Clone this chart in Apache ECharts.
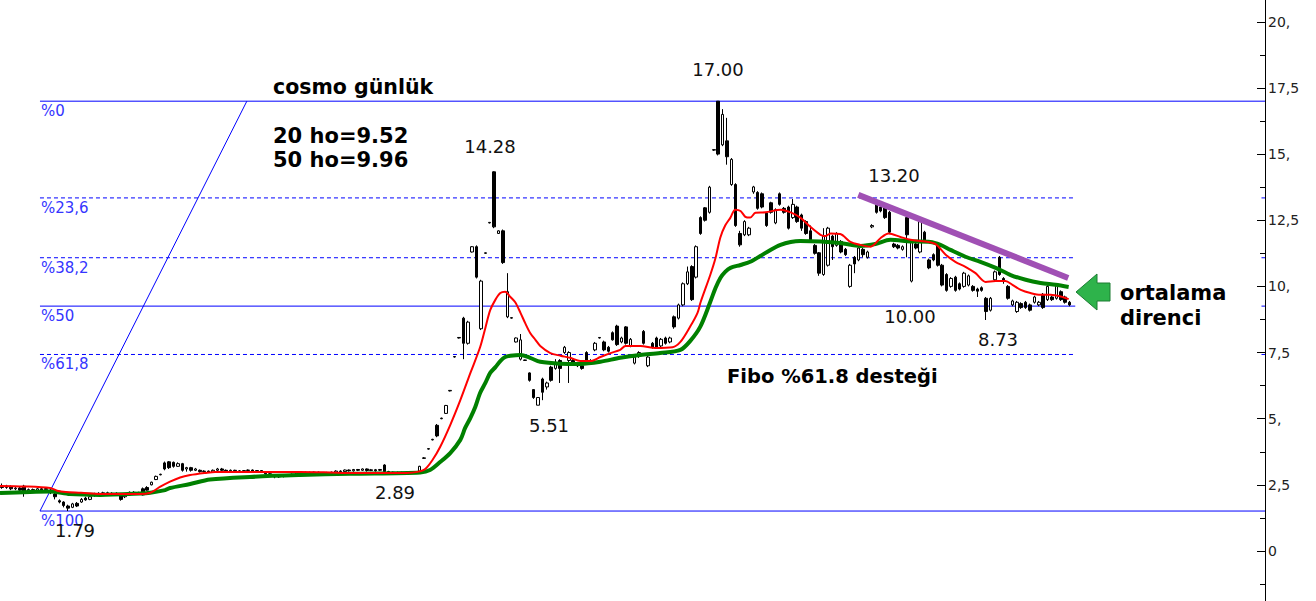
<!DOCTYPE html>
<html><head><meta charset="utf-8">
<script src="https://cdn.jsdelivr.net/npm/echarts@6/dist/echarts.min.js"></script>
<style>html,body{margin:0;padding:0;background:#fff}#c{width:1316px;height:601px}</style>
</head><body><div id="c"></div>
<script>
// [open, close, low, high] per trading day
const ohlc = [
[2.45,2.40,2.35,2.55],[2.40,2.45,2.35,2.50],[2.42,2.35,2.30,2.48],[2.35,2.38,2.30,2.42],[2.38,2.30,2.25,2.42],[2.45,2.20,2.05,2.50],[2.25,2.32,2.20,2.36],[2.32,2.28,2.24,2.36],[2.28,2.35,2.25,2.38],[2.35,2.30,2.26,2.40],
[2.32,2.36,2.28,2.40],[2.30,2.20,2.15,2.34],[2.15,2.05,1.95,2.20],[1.90,1.85,1.80,1.95],[1.85,1.72,1.65,1.88],[1.70,1.62,1.51,1.75],[1.65,1.78,1.62,1.82],[1.80,1.70,1.66,1.85],[1.85,1.95,1.82,2.00],[2.00,1.93,1.90,2.05],
[1.95,2.05,1.92,2.10],[2.10,2.15,2.05,2.20],[2.15,2.18,2.10,2.22],[2.15,2.20,2.12,2.24],[2.20,2.14,2.10,2.24],[2.15,2.18,2.12,2.22],[2.18,2.15,2.12,2.22],[2.10,1.95,1.90,2.12],[2.05,2.12,2.00,2.15],[2.12,2.22,2.10,2.25],
[2.22,2.18,2.14,2.26],[2.18,2.20,2.16,2.24],[2.35,2.12,2.10,2.40],[2.40,2.30,2.28,2.45],[2.50,2.60,2.48,2.62],[2.70,2.82,2.68,2.85],[2.88,2.90,2.86,2.92],[3.33,3.10,3.05,3.38],[3.37,3.15,3.10,3.40],[3.35,3.20,3.15,3.38],
[3.20,3.30,3.18,3.35],[3.30,3.05,3.00,3.33],[3.10,3.15,3.00,3.18],[3.15,3.05,3.00,3.18],[3.05,3.10,3.02,3.14],[3.05,3.00,2.96,3.08],[3.00,3.02,2.96,3.05],[3.02,2.98,2.95,3.04],[2.98,3.05,2.96,3.08],[3.05,3.10,3.02,3.14],
[3.10,3.05,3.02,3.14],[3.05,3.02,2.98,3.08],[3.02,3.05,3.00,3.08],[3.05,3.03,3.00,3.07],[3.03,3.00,2.97,3.06],[3.00,3.04,2.98,3.06],[3.04,3.06,3.00,3.08],[3.06,3.02,3.00,3.08],[3.02,3.04,3.00,3.06],[3.04,2.98,2.95,3.06],
[2.98,2.92,2.88,3.00],[2.92,2.85,2.80,2.95],[2.85,2.80,2.75,2.88],[2.80,2.85,2.76,2.88],[2.85,2.82,2.78,2.88],[2.82,2.88,2.80,2.90],[2.88,2.90,2.85,2.93],[2.90,2.95,2.88,2.98],[2.95,2.93,2.90,2.98],[2.93,2.97,2.90,3.00],
[2.97,2.95,2.92,3.00],[2.95,2.98,2.92,3.00],[2.98,2.96,2.93,3.00],[2.96,2.93,2.90,2.98],[2.93,2.96,2.90,2.99],[2.96,2.98,2.93,3.00],[2.98,3.02,2.95,3.05],[3.02,3.00,2.97,3.05],[3.00,3.06,2.98,3.08],[3.06,3.03,3.00,3.08],
[3.03,3.08,3.00,3.10],[3.08,3.05,3.02,3.10],[3.05,3.10,3.03,3.12],[3.10,3.04,3.00,3.12],[3.04,3.07,3.02,3.10],[3.07,3.03,3.00,3.10],[3.05,3.08,3.02,3.10],[3.25,3.00,2.98,3.28],[3.00,2.98,2.95,3.03],[2.98,2.95,2.90,3.00],
[2.95,2.97,2.89,3.00],[2.97,2.96,2.93,3.00],[2.96,2.98,2.94,3.00],[2.98,2.97,2.94,3.00],[2.97,3.00,2.94,3.02],[3.00,3.20,2.98,3.22],[3.50,3.52,3.48,3.55],[3.85,3.87,3.83,3.88],[4.20,4.22,4.18,4.24],[4.75,4.35,4.30,4.80],
[5.00,5.02,4.98,5.04],[5.20,5.50,5.18,5.52],[6.05,6.07,6.03,6.08],[7.33,7.35,7.31,7.36],[8.05,8.07,8.03,8.08],[8.80,7.85,7.25,8.85],[7.85,8.65,7.80,8.70],[11.30,11.50,11.28,11.52],[11.50,10.35,10.30,11.55],[8.40,10.20,8.35,10.25],
[11.25,11.27,11.23,11.28],[12.40,12.42,12.38,12.43],[14.33,12.25,12.20,14.35],[12.00,12.10,11.98,12.12],[12.10,10.90,10.85,12.15],[8.85,9.80,8.80,10.50],[8.80,8.82,8.78,8.83],[7.90,8.05,7.88,8.07],[7.25,7.98,7.20,8.20],[7.20,7.22,7.18,7.23],
[6.73,6.45,6.40,6.75],[6.10,5.80,5.75,6.12],[5.51,5.80,5.51,5.82],[6.50,6.00,5.70,6.55],[6.20,6.35,6.10,6.40],[6.95,6.45,6.40,7.00],[6.90,7.05,6.85,7.25],[7.20,6.90,6.35,7.25],[7.50,7.70,7.45,7.75],[7.20,7.50,6.35,7.55],
[7.20,7.08,7.00,7.25],[7.00,7.05,6.95,7.10],[7.00,6.90,6.85,7.05],[7.50,7.10,7.05,7.55],[7.10,7.20,7.05,7.25],[7.60,7.85,7.55,7.90],[8.05,8.07,8.03,8.08],[7.90,7.60,7.55,7.95],[7.70,7.55,7.50,7.75],[8.25,7.98,7.95,8.30],
[8.50,7.80,7.75,8.55],[7.90,8.05,7.85,8.10],[8.47,7.85,7.80,8.50],[7.75,8.00,7.70,8.05],[7.10,7.33,7.05,7.38],[7.35,7.50,7.30,7.55],[8.30,7.85,7.80,8.35],[7.00,7.33,6.95,7.38],[7.85,7.70,7.65,7.90],[8.05,7.70,7.65,8.10],
[7.75,8.00,7.70,8.05],[8.05,7.85,7.80,8.10],[7.90,8.05,7.85,8.10],[8.85,8.47,8.40,8.90],[8.80,9.30,8.75,9.35],[9.30,10.10,9.25,10.15],[10.10,10.55,10.05,10.75],[10.75,9.50,9.45,10.80],[10.35,11.50,10.30,11.55],[12.60,12.00,11.95,12.65],
[12.97,12.50,12.45,13.00],[12.80,13.75,12.75,13.80],[15.15,15.17,15.12,15.18],[17.00,15.00,14.95,17.00],[15.35,16.50,15.30,16.70],[15.50,14.90,14.60,16.37],[13.85,14.80,13.80,14.85],[13.85,12.30,12.25,13.90],[12.00,11.57,11.50,12.10],[11.95,12.45,11.90,12.50],
[11.95,12.20,11.90,12.25],[13.57,13.76,13.50,13.80],[13.55,12.95,12.90,13.60],[13.50,13.00,12.95,13.55],[12.77,12.30,12.25,12.80],[13.16,12.80,12.75,13.20],[12.40,12.90,12.35,12.95],[13.50,13.10,13.05,13.55],[12.95,12.80,12.75,13.00],[13.00,12.20,12.15,13.05],
[12.60,13.10,12.55,13.30],[13.00,12.45,12.40,13.05],[12.70,12.20,12.10,12.75],[12.45,12.00,11.95,12.50],[12.10,11.70,11.65,12.30],[11.55,11.25,11.20,11.60],[11.27,10.50,10.40,11.30],[10.45,11.90,10.40,12.20],[10.80,12.20,10.75,12.25],[11.90,11.50,11.00,11.95],
[11.55,12.00,11.50,12.05],[11.70,11.30,11.25,11.75],[11.40,11.20,11.15,11.45],[10.00,10.80,9.95,10.85],[11.10,10.85,10.50,11.15],[11.00,11.45,10.95,11.50],[11.40,11.20,11.10,11.45],[11.10,11.30,11.05,11.35],[12.25,12.30,12.20,12.35],[13.10,12.80,12.75,13.20],
[13.00,12.85,12.80,13.05],[13.00,12.60,12.55,13.05],[12.80,12.05,12.00,12.85],[11.60,11.50,11.45,11.65],[11.55,11.45,11.40,11.60],[11.40,11.50,11.35,11.55],[12.60,11.95,11.10,12.65],[10.20,11.70,10.15,11.75],[11.60,11.45,11.40,11.65],[11.30,12.45,11.25,12.50],
[12.05,11.70,11.65,12.10],[11.00,10.70,10.65,11.05],[11.20,11.00,10.95,11.25],[11.55,10.80,10.75,11.60],[10.80,10.05,10.00,10.85],[10.45,9.85,9.80,10.50],[10.00,10.30,9.95,10.35],[10.35,9.85,9.80,10.40],[10.10,9.90,9.85,10.15],[10.00,10.50,9.95,10.55],
[10.05,10.40,10.00,10.45],[10.00,9.85,9.80,10.05],[9.90,9.82,9.60,9.95],[9.95,9.85,9.80,10.00],[9.55,9.05,8.73,9.60],[9.10,9.55,9.05,9.60],[10.25,10.55,10.20,10.60],[11.10,10.45,10.40,11.15],[10.30,10.20,10.10,10.35],[10.00,9.55,9.50,10.05],
[9.30,9.45,9.25,9.50],[9.05,9.40,9.00,9.45],[9.35,9.20,9.15,9.40],[9.40,9.20,9.15,9.45],[9.30,9.10,9.05,9.35],[9.40,9.60,9.35,9.65],[9.30,9.40,9.25,9.45],[9.70,9.20,9.15,9.75],[9.50,10.00,9.45,10.05],[9.60,9.50,9.45,9.65],
[9.55,10.05,9.50,10.10],[9.80,9.50,9.45,9.85],[9.60,9.40,9.35,9.65],[9.40,9.30,9.25,9.45]
];
const totalSlots = 288; // category slots incl. empty right margin
const categories = Array.from({length: totalSlots}, (_, i) => String(i));

// moving averages: [day index, value]
const ma20 = [[-0.5,2.46],[5,2.44],[10.9,2.38],[12.5,2.28],[14.5,2.23],[18,2.2],[22.3,2.15],[31.4,2.15],[33.7,2.2],[35.9,2.42],[38.2,2.62],[40.5,2.78],[42.8,2.87],[46.2,2.95],[48.5,2.99],[67.8,2.99],[74.7,2.97],[79.2,2.95],[92,2.95],[94.5,2.99],[96.3,3.1],[98,3.45],[99.7,3.93],[102.0,4.76],[104.3,5.7],[106.6,6.73],[108.8,7.7],[110.0,8.43],[111.1,9.1],[112.3,9.5],[113.4,9.75],[114.5,9.8],[115.7,9.6],[116.8,9.4],[118.0,9.0],[119.1,8.6],[120.2,8.24],[121.4,7.98],[122.5,7.75],[124.8,7.48],[127.1,7.38],[129.3,7.3],[131.6,7.18],[133.9,7.18],[136.2,7.33],[138.5,7.48],[140.7,7.6],[141.9,7.75],[145.3,7.75],[148.7,7.67],[152.6,7.7],[154.4,7.9],[156.7,8.5],[158.3,9.0],[159.0,9.4],[161.2,10.43],[162.4,11.07],[163.5,11.85],[164.6,12.3],[165.8,12.6],[166.9,12.9],[168.1,12.85],[169.2,12.63],[170.3,12.6],[171.5,12.78],[173.8,12.8],[177.2,12.9],[179.5,12.8],[181.7,12.6],[184.0,12.25],[186.3,11.95],[187.4,11.9],[188.6,12.0],[190.8,11.98],[193.1,11.68],[195.4,11.57],[197.7,11.5],[200.0,11.83],[201.8,12.0],[204.5,11.87],[206.8,11.76],[210.2,11.7],[212.5,11.6],[214.8,11.2],[217.0,10.93],[219.3,10.74],[221.6,10.5],[223.9,10.17],[226.2,10.2],[228.4,10.2],[230.0,10.06],[231.9,9.87],[234.1,9.75],[236.4,9.68],[238.7,9.68],[241.0,9.62],[242.8,9.52]];
const ma50 = [[-0.5,2.19],[10.9,2.25],[15.4,2.15],[22.3,2.12],[31.4,2.17],[33.7,2.2],[37.1,2.3],[38.2,2.38],[42.8,2.53],[47.3,2.7],[56.4,2.8],[67.8,2.87],[79.2,2.92],[95.2,2.97],[97.4,3.06],[99.7,3.36],[102.0,3.7],[104.3,4.2],[105.4,4.65],[106.6,5.03],[107.7,5.44],[108.8,5.97],[110.0,6.35],[111.1,6.73],[112.3,6.95],[113.4,7.18],[114.5,7.33],[115.7,7.38],[118.0,7.41],[120.2,7.3],[122.5,7.15],[127.1,7.08],[131.6,7.07],[136.2,7.15],[140.7,7.3],[145.3,7.41],[149.8,7.48],[154.4,7.6],[156.7,7.95],[159.0,8.5],[161.2,9.41],[162.4,9.94],[163.5,10.32],[164.6,10.55],[165.8,10.7],[168.1,10.81],[170.3,10.93],[172.6,11.15],[174.9,11.38],[177.2,11.57],[179.5,11.68],[181.7,11.72],[186.3,11.7],[190.8,11.64],[195.4,11.53],[198.8,11.6],[202.2,11.76],[206.8,11.7],[211.3,11.68],[213.6,11.57],[215.9,11.38],[219.3,11.12],[222.7,10.93],[226.2,10.7],[229.6,10.43],[233.0,10.25],[236.4,10.13],[239.8,10.06],[242.8,9.98]];

// Fibonacci retracement
const fibHigh = 17.0, fibLow = 1.51;
const fibRatios = [0, 0.236, 0.382, 0.5, 0.618, 1];
const fibLabels = ['%0', '%23,6', '%38,2', '%50', '%61,8', '%100'];
const fibDashed = [false, true, true, false, true, false];
const fibStart = 8.6;
const fibEnd = [287.5, 244.3, 244.3, 244.3, 244.3, 287.5];
const fibAxisMark = [false, true, true, true, true, false];
const fibDiagonal = [[8.6, 1.51], [55.7, 17.0]];
const trendLine = [[194.9, 13.46], [242.7, 10.32]];

// y axis range and ticks
const yMin = -1.89, yMax = 20.824;
const yTickValues = [0, 2.5, 5, 7.5, 10, 12.5, 15, 17.5, 20];
const yTickLabels = ['0', '2,5', '5,', '7,5', '10,', '12,5', '15,', '17,5', '20,'];
const yMinorTicks = [-1.25, 1.25, 3.75, 6.25, 8.75, 11.25, 13.75, 16.25, 18.75];

// texts
const priceNotes = [
  ['17.00', 718, 69], ['14.28', 490, 146], ['13.20', 894, 175], ['10.00', 910, 316],
  ['8.73', 998, 339], ['5.51', 549, 425], ['2.89', 395, 492], ['1.79', 75, 530]
];
const boldNotes = [
  ['cosmo günlük', 273, 87, 20.5], ['20 ho=9.52', 273, 136, 21], ['50 ho=9.96', 273, 160, 21],
  ['Fibo %61.8 desteği', 727, 376, 19.5], ['ortalama', 1120, 293, 21], ['direnci', 1120, 318, 21]
];

const FONT = '"DejaVu Sans", Verdana, sans-serif';
const chart = echarts.init(document.getElementById('c'), null, {renderer: 'svg'});

const fibSeries = [];
fibRatios.forEach((r, k) => {
  const lvl = fibHigh - r * (fibHigh - fibLow);
  fibSeries.push({
    type: 'line', xAxisIndex: 1, yAxisIndex: 0, silent: true, symbol: 'none', z: 1,
    data: [[fibStart, lvl], [fibEnd[k], lvl]],
    lineStyle: {color: '#0000ff', width: 1, type: fibDashed[k] ? [4, 3] : 'solid'}
  });
  if (fibAxisMark[k]) {
    fibSeries.push({
      type: 'line', xAxisIndex: 1, yAxisIndex: 0, silent: true, symbol: 'none', z: 1,
      data: [[286.7, lvl], [287.5, lvl]], lineStyle: {color: '#0000ff', width: 1}
    });
  }
});

chart.setOption({
  animation: false,
  backgroundColor: '#ffffff',
  grid: {left: 0, right: 51, top: 0, bottom: 0},
  xAxis: [
    {type: 'category', data: categories, show: false, boundaryGap: true},
    {type: 'value', min: -0.5, max: totalSlots - 0.5, show: false}
  ],
  yAxis: [{
    type: 'value', position: 'right', min: yMin, max: yMax,
    axisLine: {show: true, onZero: false, lineStyle: {color: '#000', width: 1}},
    axisTick: {show: true, inside: true, length: 8, customValues: yTickValues, lineStyle: {color: '#000'}},
    splitLine: {show: false},
    axisLabel: {
      margin: 3, color: '#222', fontSize: 14, fontFamily: FONT, padding: [7, 0, 0, 0],
      customValues: yTickValues,
      formatter: v => { const k = yTickValues.indexOf(v); return k >= 0 ? yTickLabels[k] : ''; }
    }
  }, {
    type: 'value', position: 'right', min: yMin, max: yMax,
    axisLine: {show: false, onZero: false},
    axisTick: {show: true, inside: true, length: 5, customValues: yMinorTicks, lineStyle: {color: '#000'}},
    axisLabel: {show: false}, splitLine: {show: false}
  }],
  series: [
    ...fibSeries,
    {type: 'line', xAxisIndex: 1, silent: true, symbol: 'none', z: 1,
     data: fibDiagonal, lineStyle: {color: '#0000ff', width: 1}},
    {type: 'candlestick', xAxisIndex: 0, data: ohlc, barWidth: 3, z: 2,
     itemStyle: {color: '#ffffff', color0: '#000000', borderColor: '#000000', borderColor0: '#000000', borderWidth: 1}},
    {type: 'line', xAxisIndex: 1, data: ma50, symbol: 'none', smooth: 0.3, z: 3,
     lineStyle: {color: '#008000', width: 4}},
    {type: 'line', xAxisIndex: 1, data: ma20, symbol: 'none', smooth: 0.3, z: 4,
     lineStyle: {color: '#ff0000', width: 2}},
    {type: 'line', xAxisIndex: 1, data: trendLine, symbol: 'none', z: 5,
     lineStyle: {color: '#a050b4', width: 6}}
  ]
});

const graphics = [];
fibRatios.forEach((r, k) => {
  const lvl = fibHigh - r * (fibHigh - fibLow);
  const p = chart.convertToPixel({xAxisIndex: 1, yAxisIndex: 0}, [fibStart, lvl]);
  graphics.push({type: 'text', x: p[0] + 1, y: p[1] + 10, z: 10,
    style: {text: fibLabels[k], fill: '#3535ff', font: '15px ' + FONT, align: 'left', verticalAlign: 'middle'}});
});
priceNotes.forEach(n => graphics.push({type: 'text', x: n[1], y: n[2], z: 10,
  style: {text: n[0], fill: '#111', font: '18px ' + FONT, align: 'center', verticalAlign: 'middle'}}));
boldNotes.forEach(n => graphics.push({type: 'text', x: n[1], y: n[2], z: 10,
  style: {text: n[0], fill: '#000', font: 'bold ' + n[3] + 'px ' + FONT, align: 'left', verticalAlign: 'middle'}}));
graphics.push({type: 'polygon', z: 10,
  shape: {points: [[1076, 292], [1097, 274], [1097, 283], [1110, 283], [1110, 301], [1097, 301], [1097, 310]]},
  style: {fill: '#2eb34b', stroke: '#1c7d33', lineWidth: 1}});
chart.setOption({graphic: graphics});
</script>
</body></html>
